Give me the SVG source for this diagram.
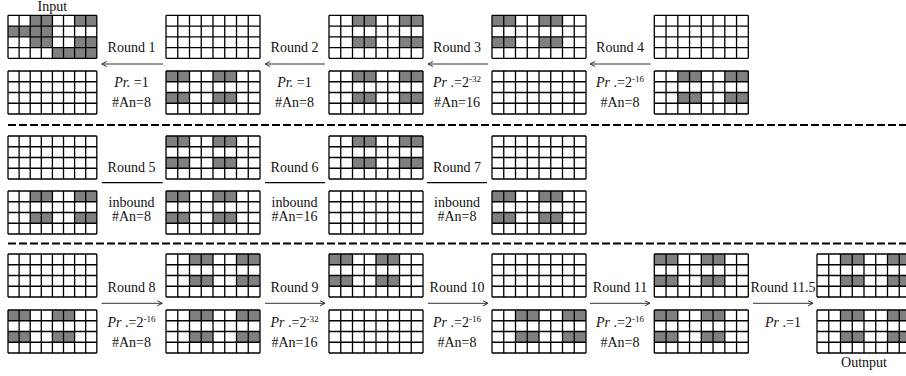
<svg xmlns="http://www.w3.org/2000/svg" xmlns:xlink="http://www.w3.org/1999/xlink" width="906" height="376" viewBox="0 0 906 376">
<style>
.g{fill:#808080}
.ln{fill:none;stroke:#000;stroke-width:1.3}
.t{font-family:"Liberation Serif","Times New Roman",serif;font-size:14px;fill:#111;text-anchor:middle}
.i{font-style:italic}
.s{font-size:9px}
.ar{fill:none;stroke:#333;stroke-width:1}
.cn{fill:none;stroke:#000;stroke-width:1.2}
.dash{fill:none;stroke:#000;stroke-width:2;stroke-dasharray:8 3}
</style>
<defs>
<marker id="ah" markerWidth="8" markerHeight="8" refX="6" refY="4" orient="auto" markerUnits="userSpaceOnUse">
<path d="M1,1.5 L6,4 L1,6.5" fill="none" stroke="#333" stroke-width="1"/>
</marker>
<path id="lw" class="ln" d="M0,0H94M0,10.75H94M0,21.5H94M0,32.25H94M0,43H94M0,0V43M11.75,0V43M23.5,0V43M35.25,0V43M47,0V43M58.75,0V43M70.5,0V43M82.25,0V43M94,0V43"/>
<path id="ln" class="ln" d="M0,0H88.8M0,10.75H88.8M0,21.5H88.8M0,32.25H88.8M0,43H88.8M0,0V43M11.1,0V43M22.2,0V43M33.3,0V43M44.4,0V43M55.5,0V43M66.6,0V43M77.7,0V43M88.8,0V43"/>
<g id="p1w" class="g"><rect x="0" y="0" width="23.5" height="10.75"/><rect x="47" y="0" width="23.5" height="10.75"/><rect x="0" y="21.5" width="23.5" height="10.75"/><rect x="47" y="21.5" width="23.5" height="10.75"/></g>
<g id="p2w" class="g"><rect x="23.5" y="0" width="23.5" height="10.75"/><rect x="70.5" y="0" width="23.5" height="10.75"/><rect x="23.5" y="21.5" width="23.5" height="10.75"/><rect x="70.5" y="21.5" width="23.5" height="10.75"/></g>
<g id="p1n" class="g"><rect x="0" y="0" width="22.2" height="10.75"/><rect x="44.4" y="0" width="22.2" height="10.75"/><rect x="0" y="21.5" width="22.2" height="10.75"/><rect x="44.4" y="21.5" width="22.2" height="10.75"/></g>
<g id="p2n" class="g"><rect x="22.2" y="0" width="22.2" height="10.75"/><rect x="66.6" y="0" width="22.2" height="10.75"/><rect x="22.2" y="21.5" width="22.2" height="10.75"/><rect x="66.6" y="21.5" width="22.2" height="10.75"/></g>
</defs>
<rect width="906" height="376" fill="#fff"/>

<!-- Section 1 -->
<g id="s1-a-top" transform="translate(8,15.3)">
<g class="g"><rect x="22.2" y="0" width="22.2" height="10.75"/><rect x="66.6" y="0" width="22.2" height="10.75"/><rect x="0" y="10.75" width="44.4" height="10.75"/><rect x="22.2" y="21.5" width="22.2" height="10.75"/><rect x="66.6" y="21.5" width="22.2" height="10.75"/><rect x="44.4" y="32.25" width="44.4" height="10.75"/></g>
<use xlink:href="#ln"/></g>
<g id="s1-a-bot" transform="translate(8,71)"><use xlink:href="#ln"/></g>
<g id="s1-b-top" transform="translate(166,15.3)"><use xlink:href="#lw"/></g>
<g id="s1-b-bot" transform="translate(166,71)"><use xlink:href="#p1w"/><use xlink:href="#lw"/></g>
<g id="s1-c-top" transform="translate(329,15.3)"><use xlink:href="#p2w"/><use xlink:href="#lw"/></g>
<g id="s1-c-bot" transform="translate(329,71)"><use xlink:href="#p2w"/><use xlink:href="#lw"/></g>
<g id="s1-d-top" transform="translate(492,15.3)"><use xlink:href="#p1w"/><use xlink:href="#lw"/></g>
<g id="s1-d-bot" transform="translate(492,71)"><use xlink:href="#lw"/></g>
<g id="s1-e-top" transform="translate(654.3,15.3)"><use xlink:href="#lw"/></g>
<g id="s1-e-bot" transform="translate(654.3,71)"><use xlink:href="#p2w"/><use xlink:href="#lw"/></g>

<!-- Section 2 -->
<g id="s2-a-top" transform="translate(8,136)"><use xlink:href="#ln"/></g>
<g id="s2-a-bot" transform="translate(8,191)"><use xlink:href="#p2n"/><use xlink:href="#ln"/></g>
<g id="s2-b-top" transform="translate(166,136)"><use xlink:href="#p1w"/><use xlink:href="#lw"/></g>
<g id="s2-b-bot" transform="translate(166,191)"><use xlink:href="#p1w"/><use xlink:href="#lw"/></g>
<g id="s2-c-top" transform="translate(329,136)"><use xlink:href="#p2w"/><use xlink:href="#lw"/></g>
<g id="s2-c-bot" transform="translate(329,191)"><use xlink:href="#lw"/></g>
<g id="s2-d-top" transform="translate(492,136)"><use xlink:href="#lw"/></g>
<g id="s2-d-bot" transform="translate(492,191)"><use xlink:href="#p1w"/><use xlink:href="#lw"/></g>

<!-- Section 3 -->
<g id="s3-a-top" transform="translate(8,254)"><use xlink:href="#ln"/></g>
<g id="s3-a-bot" transform="translate(8,310)"><use xlink:href="#p1n"/><use xlink:href="#ln"/></g>
<g id="s3-b-top" transform="translate(166,254)"><use xlink:href="#p2w"/><use xlink:href="#lw"/></g>
<g id="s3-b-bot" transform="translate(166,310)"><use xlink:href="#p2w"/><use xlink:href="#lw"/></g>
<g id="s3-c-top" transform="translate(329,254)"><use xlink:href="#p1w"/><use xlink:href="#lw"/></g>
<g id="s3-c-bot" transform="translate(329,310)"><use xlink:href="#lw"/></g>
<g id="s3-d-top" transform="translate(492,254)"><use xlink:href="#lw"/></g>
<g id="s3-d-bot" transform="translate(492,310)"><use xlink:href="#p2w"/><use xlink:href="#lw"/></g>
<g id="s3-e-top" transform="translate(654.3,254)"><use xlink:href="#p1w"/><use xlink:href="#lw"/></g>
<g id="s3-e-bot" transform="translate(654.3,310)"><use xlink:href="#p1w"/><use xlink:href="#lw"/></g>
<g id="s3-f-top" transform="translate(817,254)"><use xlink:href="#p2w"/><use xlink:href="#lw"/></g>
<g id="s3-f-bot" transform="translate(817,310)"><use xlink:href="#p2w"/><use xlink:href="#lw"/></g>

<!-- connectors -->
<g id="connectors">
<path class="ar" marker-end="url(#ah)" d="M163,64H101.7"/>
<path class="ar" marker-end="url(#ah)" d="M325,64H265"/>
<path class="ar" marker-end="url(#ah)" d="M488,64H428"/>
<path class="ar" marker-end="url(#ah)" d="M650.7,64H590"/>
<path class="cn" d="M101.7,182.7H162.7"/>
<path class="cn" d="M265,182.7H325"/>
<path class="cn" d="M427,182.7H487"/>
<path class="ar" marker-end="url(#ah)" d="M101.7,303.3H162.3"/>
<path class="ar" marker-end="url(#ah)" d="M265,303.3H325"/>
<path class="ar" marker-end="url(#ah)" d="M428,303.3H488"/>
<path class="ar" marker-end="url(#ah)" d="M590,303.3H650"/>
<path class="ar" marker-end="url(#ah)" d="M753,303.3H813"/>
</g>

<!-- separators -->
<path class="dash" d="M8,125H906"/>
<path class="dash" d="M8,243.5H906"/>

<!-- labels -->
<g id="labels">
<text class="t" x="52.4" y="11">Input</text>
<text class="t" x="864" y="367">Outnput</text>

<text class="t" x="131.5" y="52">Round 1</text>
<text class="t" x="131.5" y="87"><tspan class="i">Pr.</tspan> =1</text>
<text class="t" x="131.5" y="107">#An=8</text>
<text class="t" x="294.5" y="52">Round 2</text>
<text class="t" x="294.5" y="87"><tspan class="i">Pr.</tspan> =1</text>
<text class="t" x="294.5" y="107">#An=8</text>
<text class="t" x="457" y="52">Round 3</text>
<text class="t" x="457" y="87"><tspan class="i">Pr </tspan>.=2<tspan class="s" dy="-5">-32</tspan></text>
<text class="t" x="457" y="107">#An=16</text>
<text class="t" x="620" y="52">Round 4</text>
<text class="t" x="620" y="87"><tspan class="i">Pr </tspan>.=2<tspan class="s" dy="-5">-16</tspan></text>
<text class="t" x="620" y="107">#An=8</text>

<text class="t" x="131.5" y="171.5">Round 5</text>
<text class="t" x="131.5" y="206.5">inbound</text>
<text class="t" x="131.5" y="220.5">#An=8</text>
<text class="t" x="294.5" y="171.5">Round 6</text>
<text class="t" x="294.5" y="206.5">inbound</text>
<text class="t" x="294.5" y="220.5">#An=16</text>
<text class="t" x="457" y="171.5">Round 7</text>
<text class="t" x="457" y="206.5">inbound</text>
<text class="t" x="457" y="220.5">#An=8</text>

<text class="t" x="131.5" y="291.5">Round 8</text>
<text class="t" x="131.5" y="327"><tspan class="i">Pr </tspan>.=2<tspan class="s" dy="-5">-16</tspan></text>
<text class="t" x="131.5" y="346.5">#An=8</text>
<text class="t" x="294.5" y="291.5">Round 9</text>
<text class="t" x="294.5" y="327"><tspan class="i">Pr </tspan>.=2<tspan class="s" dy="-5">-32</tspan></text>
<text class="t" x="294.5" y="346.5">#An=16</text>
<text class="t" x="457" y="291.5">Round 10</text>
<text class="t" x="457" y="327"><tspan class="i">Pr </tspan>.=2<tspan class="s" dy="-5">-16</tspan></text>
<text class="t" x="457" y="346.5">#An=8</text>
<text class="t" x="620" y="291.5">Round 11</text>
<text class="t" x="620" y="327"><tspan class="i">Pr </tspan>.=2<tspan class="s" dy="-5">-16</tspan></text>
<text class="t" x="620" y="346.5">#An=8</text>
<text class="t" x="783" y="291.5">Round 11.5</text>
<text class="t" x="783" y="327"><tspan class="i">Pr </tspan>.=1</text>
</g>
</svg>
